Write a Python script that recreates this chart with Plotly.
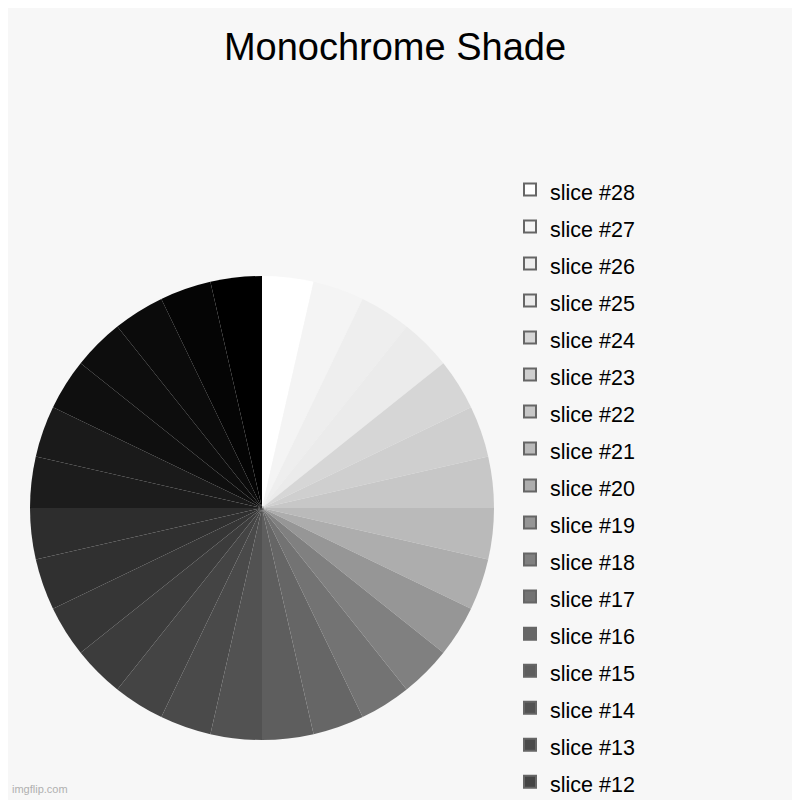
import plotly.graph_objects as go

TITLE = "Monochrome Shade"
BG = "#f7f7f7"

# slices listed clockwise from 12 o'clock, same order as the legend
labels = [f"slice #{n}" for n in range(28, 0, -1)]
values = [1] * 28
shades = [
    "#ffffff", "#f4f4f4", "#eeeeee", "#ebebeb", "#d6d6d6", "#cfcfcf", "#c7c7c7",
    "#bababa", "#adadad", "#969696", "#808080", "#737373", "#666666", "#5e5e5e",
    "#525252", "#4a4a4a", "#444444", "#3c3c3c", "#363636", "#303030", "#2d2d2d",
    "#1c1c1c", "#1a1a1a", "#0f0f0f", "#0d0d0d", "#0b0b0b", "#050505", "#000000",
]

# the page body has an 8px margin, so the figure is 792px and sits at (8, 8)
OFF = 8
SIZE = 800 - OFF


def px_x(x):
    return (x - OFF) / SIZE


def px_y(y):
    return 1 - (y - OFF) / SIZE


LEGEND_FONT = 21.5
LEGEND_ROW = 37  # row pitch in px

# legend labels keep the text size, the outer font only sets the row height
legend_labels = [f'<span style="font-size:{LEGEND_FONT}px">{s}</span>' for s in labels]

cx, cy, r = 262, 508, 232  # pie centre and radius in page pixels

fig = go.Figure()
# tiny copy behind the pie: only here to give the legend squares a grey outline
fig.add_trace(go.Pie(
    labels=legend_labels, values=values, sort=False, direction="clockwise",
    marker=dict(colors=shades, line=dict(color="#666666", width=2)),
    textinfo="none", hoverinfo="skip",
    domain=dict(x=[px_x(cx - 1), px_x(cx + 1)], y=[px_y(cy + 1), px_y(cy - 1)]),
))
fig.add_trace(go.Pie(
    labels=legend_labels, values=values, sort=False, direction="clockwise",
    marker=dict(colors=shades, line=dict(width=0)),
    textinfo="none", showlegend=False,
    domain=dict(x=[px_x(cx - r), px_x(cx + r)], y=[px_y(cy + r), px_y(cy - r)]),
))

fig.update_layout(
    width=SIZE, height=SIZE,
    paper_bgcolor=BG, plot_bgcolor=BG,
    margin=dict(l=0, r=0, t=0, b=0, autoexpand=False),
    font=dict(family="Liberation Sans, Arial, sans-serif", color="#000000"),
    title=dict(text=TITLE, x=px_x(395), xanchor="center", y=px_y(47), yanchor="middle",
               font=dict(size=38, color="#000000")),
    legend=dict(
        x=px_x(510), xanchor="left", y=px_y(166), yanchor="top",
        font=dict(size=LEGEND_ROW / 1.3 - 2.3), bgcolor="rgba(0,0,0,0)",
        traceorder="normal", maxheight=1200,
    ),
    annotations=[dict(
        text="imgflip.com", x=px_x(10), y=px_y(797), xref="paper", yref="paper",
        xanchor="left", yanchor="bottom", showarrow=False,
        font=dict(size=11, color="#b0b0b0"),
    )],
)

fig.write_html("out.html")
